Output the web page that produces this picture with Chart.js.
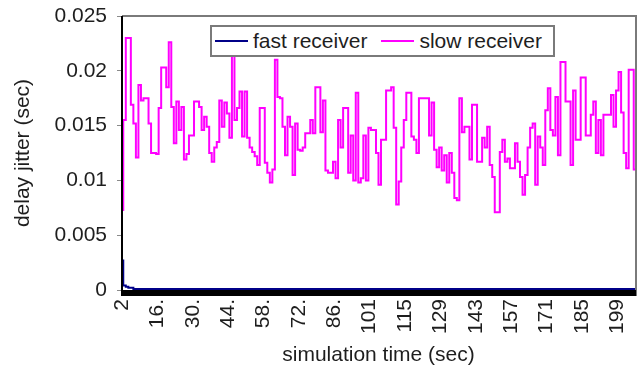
<!DOCTYPE html>
<html>
<head>
<meta charset="utf-8">
<script src="https://cdn.jsdelivr.net/npm/chart.js@4"></script>
<style>
  html, body { margin: 0; padding: 0; background: #fff; }
  #wrap { position: relative; width: 638px; height: 378px; }
  #legend {
    position: absolute; left: 210px; top: 25px; width: 341px; height: 28px;
    border: 2px solid #7a7a7a; background: #fff; display: flex; align-items: center;
    font-family: "Liberation Sans", Arial, sans-serif; font-size: 21px; color: #1e1e1e;
  }
  #legend .item { display: flex; align-items: center; margin-left: 3px; margin-right: 11px; }
  #legend .swatch { display: inline-block; width: 33px; height: 2px; margin-right: 5px; }
</style>
</head>
<body>
<div id="wrap">
  <canvas id="jitterChart" width="638" height="378"></canvas>
  <div id="legend"></div>
</div>
<script>
// delay jitter per sample (sec)
const fastReceiver = [
  0.0027, 0.0004, 0.0003, 0.0002, 0.0002, 0.0001, 0.0001, 0.0001, 0.0001, 0.0001,
  0.0001, 0.0001, 0.0001, 0.0001, 0.0001, 0.0001, 0.0001, 0.0001, 0.0001, 0.0001,
  0.0001, 0.0001, 0.0001, 0.0001, 0.0001, 0.0001, 0.0001, 0.0001, 0.0001, 0.0001,
  0.0001, 0.0001, 0.0001, 0.0001, 0.0001, 0.0001, 0.0001, 0.0001, 0.0001, 0.0001,
  0.0001, 0.0001, 0.0001, 0.0001, 0.0001, 0.0001, 0.0001, 0.0001, 0.0001, 0.0001,
  0.0001, 0.0001, 0.0001, 0.0001, 0.0001, 0.0001, 0.0001, 0.0001, 0.0001, 0.0001,
  0.0001, 0.0001, 0.0001, 0.0001, 0.0001, 0.0001, 0.0001, 0.0001, 0.0001, 0.0001,
  0.0001, 0.0001, 0.0001, 0.0001, 0.0001, 0.0001, 0.0001, 0.0001, 0.0001, 0.0001,
  0.0001, 0.0001, 0.0001, 0.0001, 0.0001, 0.0001, 0.0001, 0.0001, 0.0001, 0.0001,
  0.0001, 0.0001, 0.0001, 0.0001, 0.0001, 0.0001, 0.0001, 0.0001, 0.0001, 0.0001,
  0.0001, 0.0001, 0.0001, 0.0001, 0.0001, 0.0001, 0.0001, 0.0001, 0.0001, 0.0001,
  0.0001, 0.0001, 0.0001, 0.0001, 0.0001, 0.0001, 0.0001, 0.0001, 0.0001, 0.0001,
  0.0001, 0.0001, 0.0001, 0.0001, 0.0001, 0.0001, 0.0001, 0.0001, 0.0001, 0.0001,
  0.0001, 0.0001, 0.0001, 0.0001, 0.0001, 0.0001, 0.0001, 0.0001, 0.0001, 0.0001,
  0.0001, 0.0001, 0.0001, 0.0001, 0.0001, 0.0001, 0.0001, 0.0001, 0.0001, 0.0001,
  0.0001, 0.0001, 0.0001, 0.0001, 0.0001, 0.0001, 0.0001, 0.0001, 0.0001, 0.0001,
  0.0001, 0.0001, 0.0001, 0.0001, 0.0001, 0.0001, 0.0001, 0.0001, 0.0001, 0.0001,
  0.0001, 0.0001, 0.0001, 0.0001, 0.0001, 0.0001, 0.0001, 0.0001, 0.0001, 0.0001,
  0.0001, 0.0001, 0.0001, 0.0001, 0.0001, 0.0001, 0.0001, 0.0001, 0.0001, 0.0001,
  0.0001, 0.0001, 0.0001, 0.0001, 0.0001, 0.0001, 0.0001, 0.0001, 0.0001, 0.0001,
  0.0001, 0.0001, 0.0001, 0.0001
];

const slowReceiver = [
  0.0073, 0.0155, 0.0230, 0.0230, 0.0169, 0.0152, 0.0121, 0.0187, 0.0173, 0.0175,
  0.0175, 0.0152, 0.0125, 0.0125, 0.0124, 0.0166, 0.0203, 0.0203, 0.0185, 0.0226,
  0.0167, 0.0134, 0.0172, 0.0146, 0.0167, 0.0119, 0.0124, 0.0141, 0.0141, 0.0172,
  0.0172, 0.0167, 0.0146, 0.0158, 0.0149, 0.0125, 0.0117, 0.0130, 0.0135, 0.0173,
  0.0149, 0.0171, 0.0161, 0.0139, 0.0214, 0.0155, 0.0166, 0.0181, 0.0140, 0.0181,
  0.0139, 0.0130, 0.0126, 0.0122, 0.0114, 0.0166, 0.0166, 0.0116, 0.0107, 0.0098,
  0.0110, 0.0210, 0.0176, 0.0175, 0.0149, 0.0123, 0.0158, 0.0149, 0.0105, 0.0152,
  0.0128, 0.0127, 0.0130, 0.0143, 0.0143, 0.0155, 0.0143, 0.0185, 0.0185, 0.0144,
  0.0173, 0.0109, 0.0107, 0.0107, 0.0117, 0.0102, 0.0155, 0.0130, 0.0166, 0.0166,
  0.0107, 0.0141, 0.0100, 0.0180, 0.0098, 0.0102, 0.0141, 0.0100, 0.0148, 0.0146,
  0.0146, 0.0125, 0.0096, 0.0137, 0.0137, 0.0182, 0.0182, 0.0185, 0.0148, 0.0078,
  0.0099, 0.0130, 0.0155, 0.0180, 0.0180, 0.0140, 0.0137, 0.0125, 0.0175, 0.0175,
  0.0175, 0.0175, 0.0141, 0.0171, 0.0128, 0.0112, 0.0130, 0.0109, 0.0123, 0.0098,
  0.0125, 0.0107, 0.0084, 0.0082, 0.0175, 0.0144, 0.0149, 0.0149, 0.0119, 0.0169,
  0.0169, 0.0117, 0.0117, 0.0139, 0.0130, 0.0149, 0.0114, 0.0103, 0.0071, 0.0071,
  0.0126, 0.0137, 0.0117, 0.0120, 0.0111, 0.0111, 0.0134, 0.0117, 0.0103, 0.0087,
  0.0105, 0.0130, 0.0148, 0.0152, 0.0096, 0.0140, 0.0130, 0.0114, 0.0164, 0.0184,
  0.0146, 0.0141, 0.0176, 0.0123, 0.0208, 0.0208, 0.0172, 0.0172, 0.0114, 0.0182,
  0.0137, 0.0137, 0.0194, 0.0194, 0.0141, 0.0141, 0.0160, 0.0172, 0.0125, 0.0155,
  0.0123, 0.0160, 0.0160, 0.0160, 0.0178, 0.0149, 0.0182, 0.0199, 0.0162, 0.0125,
  0.0111, 0.0201, 0.0201, 0.0110
];

// simulation time labels, one every labelStep samples
const timeLabels = ["2", "16.", "30.", "44.", "58.", "72.", "86.", "101", "115", "129", "143", "157", "171", "185", "199"];
const labelStep = 14;
const yTicks = [0, 0.005, 0.01, 0.015, 0.02, 0.025];

const seriesNames = ["fast receiver", "slow receiver"];
const seriesColors = ["#000088", "#ff00ff"];

const samples = slowReceiver.map((v, i) => i);
const FONT = "'Liberation Sans', Arial, sans-serif";

// plot frame: gray top/right, black left axis, heavy black base line
const framePlugin = {
  id: "frame",
  afterDatasetsDraw(chart) {
    const { ctx, chartArea: a } = chart;
    ctx.save();
    ctx.strokeStyle = "#7a7a7a";
    ctx.lineWidth = 2;
    ctx.beginPath();
    ctx.moveTo(a.left, a.top);
    ctx.lineTo(a.right + 1, a.top);
    ctx.lineTo(a.right + 1, a.bottom + 6);
    ctx.stroke();
    ctx.fillStyle = "#000";
    ctx.fillRect(a.left - 1, a.top, 2, a.bottom - a.top + 6);
    ctx.fillRect(a.left - 1, a.bottom, a.right - a.left + 2, 6);
    ctx.restore();
  },
};

const ctx = document.getElementById("jitterChart").getContext("2d");
const chart = new Chart(ctx, {
  type: "line",
  data: {
    labels: samples,
    datasets: [
      {
        label: seriesNames[0],
        data: fastReceiver,
        borderColor: seriesColors[0],
        borderWidth: 2,
        pointRadius: 0,
        stepped: "middle",
      },
      {
        label: seriesNames[1],
        data: slowReceiver,
        borderColor: seriesColors[1],
        borderWidth: 2,
        pointRadius: 0,
        stepped: "middle",
      },
    ],
  },
  options: {
    responsive: false,
    animation: false,
    devicePixelRatio: 1,
    layout: { padding: { top: 16, right: 3, left: 0, bottom: 0 } },
    plugins: { legend: { display: false }, tooltip: { enabled: false } },
    scales: {
      x: {
        type: "category",
        offset: false,
        grid: { display: false, drawTicks: false },
        border: { display: false },
        ticks: {
          autoSkip: false,
          maxRotation: 90,
          minRotation: 90,
          padding: 9,
          color: "#1e1e1e",
          font: { family: FONT, size: 21 },
          callback: (val, i) => (i % labelStep === 0 ? timeLabels[i / labelStep] : ""),
        },
        title: {
          display: true,
          text: "simulation time (sec)",
          color: "#1e1e1e",
          font: { family: FONT, size: 21 },
          padding: { top: 0, bottom: 10 },
        },
        afterFit: (s) => {
          s.height = 88;
          s.paddingLeft = 0;
          s.paddingRight = 0;
        },
      },
      y: {
        min: 0,
        max: 0.025,
        grid: { drawOnChartArea: false, drawTicks: true, tickLength: 5, color: "#8a8a8a" },
        border: { display: false },
        afterBuildTicks: (s) => { s.ticks = yTicks.map((v) => ({ value: v })); },
        ticks: {
          padding: 10,
          color: "#1e1e1e",
          font: { family: FONT, size: 21 },
          callback: (v) => String(+v.toFixed(3)),
        },
        title: {
          display: true,
          text: "delay jitter (sec)",
          color: "#1e1e1e",
          font: { family: FONT, size: 21 },
          padding: { top: 11, bottom: 0 },
        },
        afterFit: (s) => {
          s.width = 122;
          s.paddingTop = 0;
          s.paddingBottom = 0;
        },
      },
    },
  },
  plugins: [framePlugin],
});

// legend built from the datasets
const legendEl = document.getElementById("legend");
chart.data.datasets.forEach((ds) => {
  const item = document.createElement("span");
  item.className = "item";
  item.innerHTML = `<span class="swatch" style="background:${ds.borderColor}"></span>${ds.label}`;
  legendEl.appendChild(item);
});
</script>
</body>
</html>
